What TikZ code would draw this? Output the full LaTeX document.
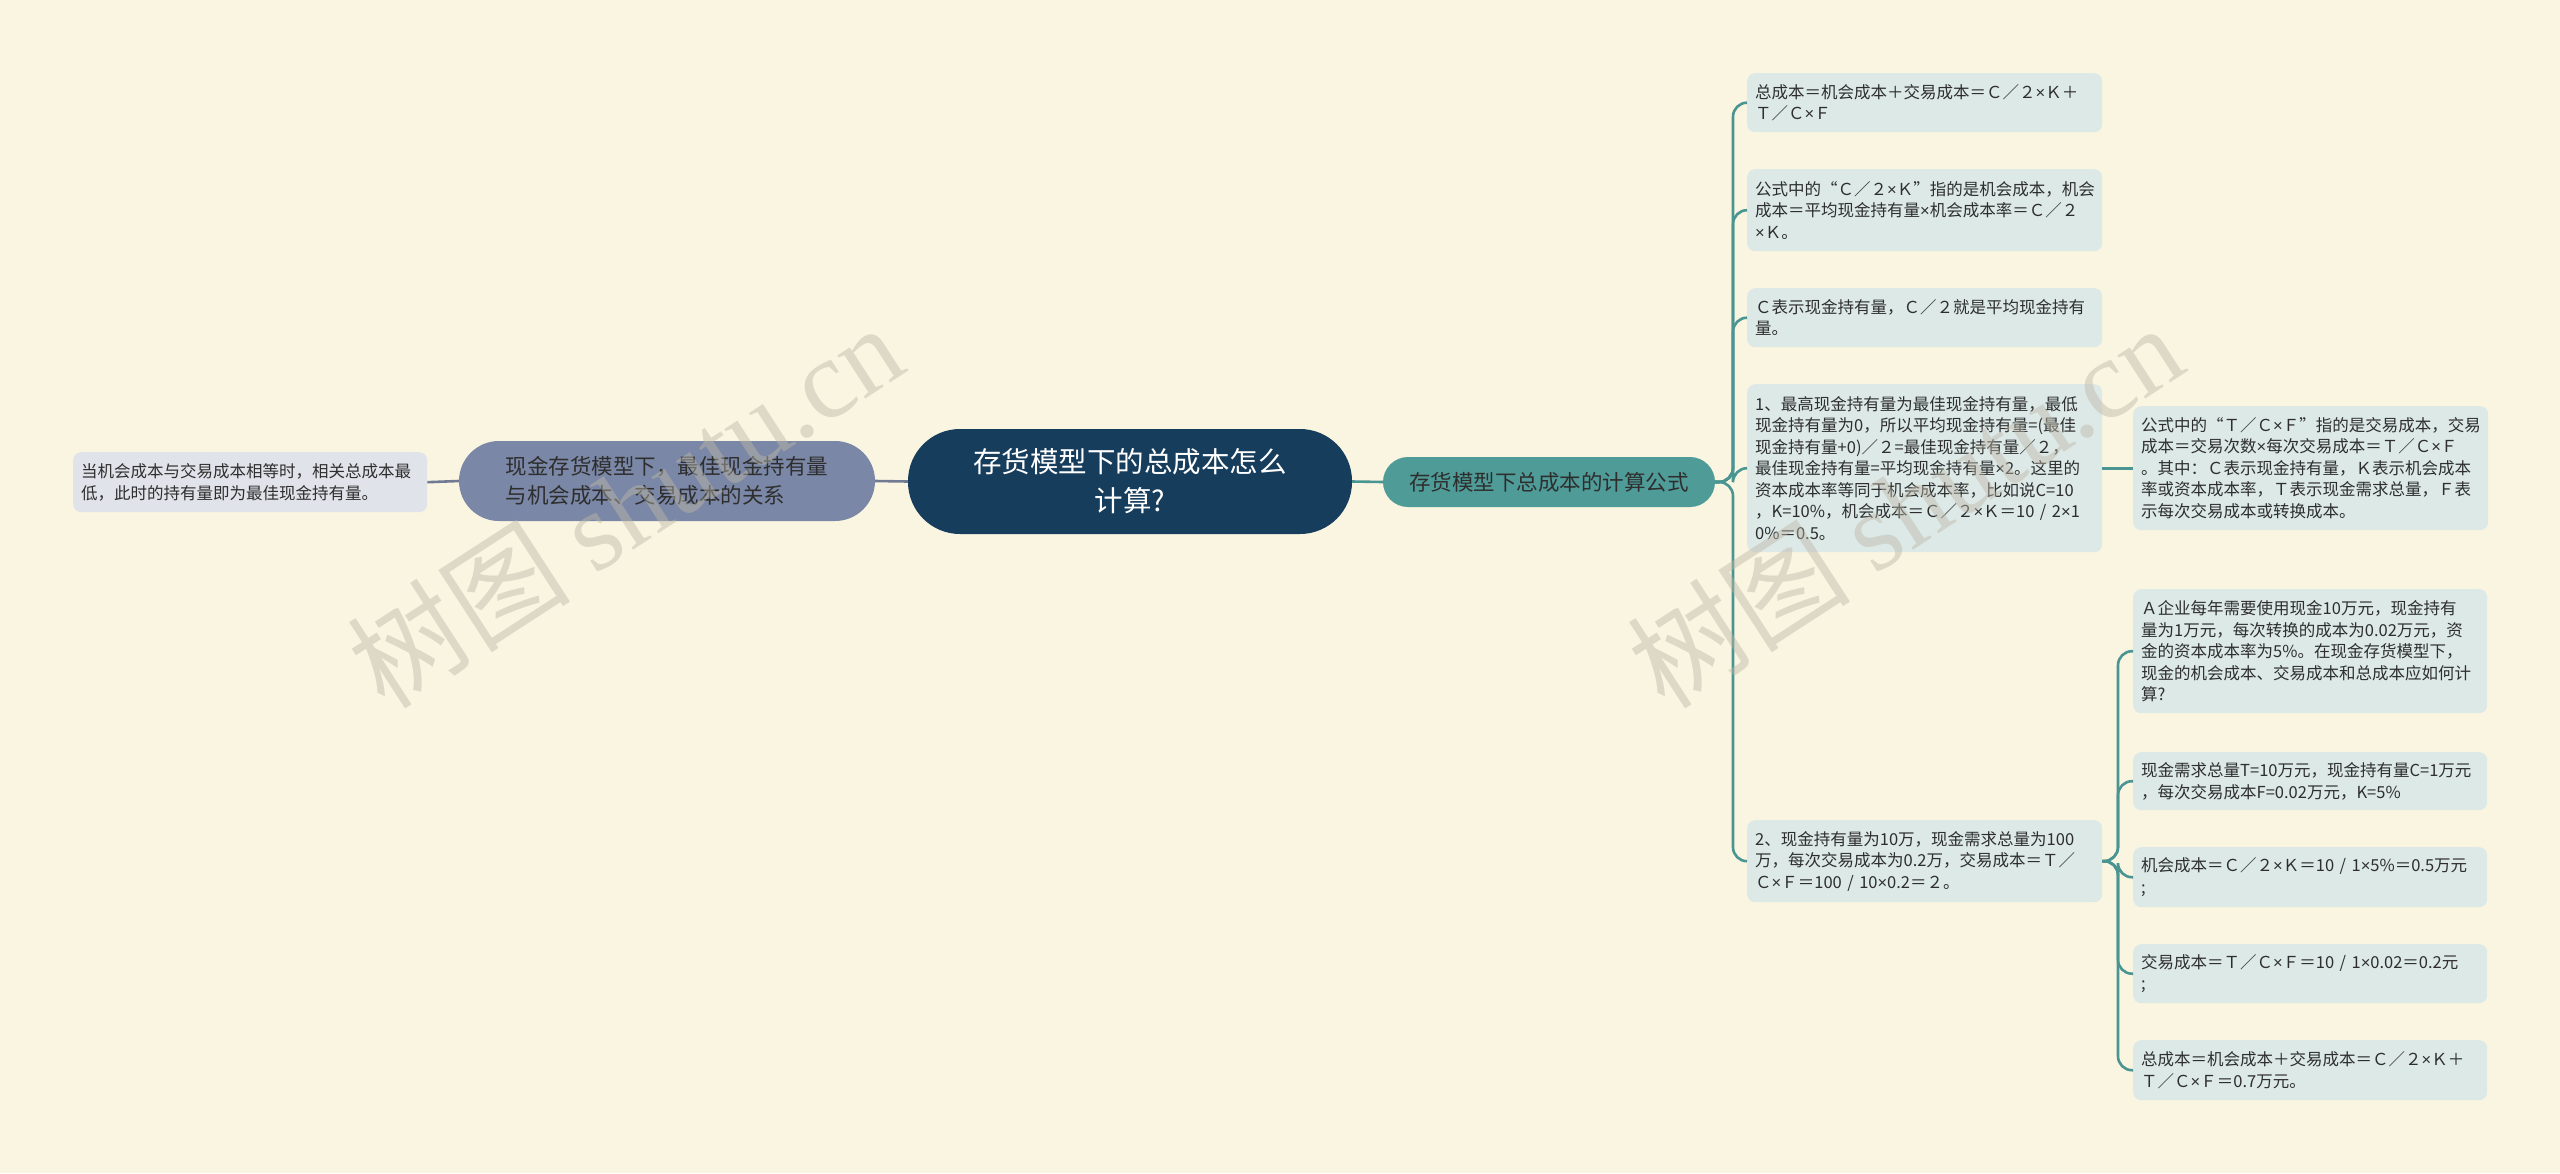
\documentclass[tikz,border=0pt]{standalone}
\usepackage{fontspec}
\setmainfont{Noto Sans CJK SC}
\newfontfamily\wmserif{Liberation Serif}
\newfontfamily\latf{Liberation Sans}
\newcommand\xx{{\latf ×}}
\definecolor{bgc}{HTML}{FAF5E1}
\definecolor{leaffill}{HTML}{DCE9E7}
\definecolor{leftleaffill}{HTML}{E1E3EA}
\definecolor{tealc}{HTML}{4F9B98}
\definecolor{tealline}{HTML}{4A9592}
\definecolor{slatec}{HTML}{7A87A6}
\definecolor{grayline}{HTML}{707A92}
\definecolor{navyc}{HTML}{173D5D}
\definecolor{txt}{HTML}{2E2E2E}
\definecolor{wmc}{HTML}{BDB8A8}
\tikzset{
  leafbox/.style={fill=leaffill, rounded corners=8pt, align=left, inner xsep=8pt, inner ysep=0pt,
    anchor=north west, text=txt, font=\fontsize{16.5pt}{21.5pt}\selectfont},
  tline/.style={draw=tealline, line width=2.6pt, rounded corners=14pt},
  gline/.style={draw=grayline, line width=2.6pt},
  wmark/.style={text=wmc, opacity=0.45, rotate=33, font=\fontsize{112pt}{112pt}\selectfont}
}
\begin{document}
\begin{tikzpicture}[x=1pt,y=-1pt]
\useasboundingbox (0,0) rectangle (2560,1173);
\fill[bgc] (0,0) rectangle (2560,1173);

% main nodes
\node[fill=navyc, text=white, rounded corners=52pt, minimum width=444pt, minimum height=105pt,
  align=center, font=\fontsize{28.5pt}{39pt}\selectfont] (C) at (1130,481.5) {存货模型下的总成本怎么\\计算?};
\node[fill=slatec, text=txt, rounded corners=40pt, minimum width=416pt, minimum height=80pt,
  align=left, font=\fontsize{21.5pt}{29.5pt}\selectfont] (Lm) at (667,481) {现金存货模型下，最佳现金持有量\\与机会成本、交易成本的关系};
\node[fill=leftleaffill, rounded corners=8pt, align=left, inner xsep=8pt, inner ysep=0pt,
  anchor=north west, text=txt, font=\fontsize{16.5pt}{21.5pt}\selectfont,
  text width=338pt, minimum height=60pt] (LL) at (73,452) {当机会成本与交易成本相等时，相关总成本最\\低，此时的持有量即为最佳现金持有量。};
\node[fill=tealc, text=txt, rounded corners=25pt, minimum width=332pt, minimum height=50pt,
  font=\fontsize{21.5pt}{26pt}\selectfont] (R) at (1549,482) {存货模型下总成本的计算公式};

% right leaves
\node[leafbox, text width=339pt, minimum height=59pt] (L1) at (1747,73)
  {总成本＝机会成本＋交易成本＝Ｃ／２\xx Ｋ＋\\Ｔ／Ｃ\xx Ｆ};
\node[leafbox, text width=339pt, minimum height=82pt] (L2) at (1747,169)
  {公式中的“Ｃ／２\xx Ｋ”指的是机会成本，机会\\成本＝平均现金持有量\xx 机会成本率＝Ｃ／２\\\xx Ｋ。};
\node[leafbox, text width=339pt, minimum height=59pt] (L3) at (1747,288)
  {Ｃ表示现金持有量，Ｃ／２就是平均现金持有\\量。};
\node[leafbox, text width=339pt, minimum height=168pt] (L4) at (1747,384)
  {1、最高现金持有量为最佳现金持有量，最低\\现金持有量为0，所以平均现金持有量=(最佳\\现金持有量+0)／２=最佳现金持有量／２，\\最佳现金持有量=平均现金持有量\xx 2。这里的\\资本成本率等同于机会成本率，比如说C=10\\，K=10\%，机会成本＝Ｃ／２\xx Ｋ＝10~/~2\xx 1\\0\%＝0.5。};
\node[leafbox, text width=339pt, minimum height=82pt] (L5) at (1747,820)
  {2、现金持有量为10万，现金需求总量为100\\万，每次交易成本为0.2万，交易成本＝Ｔ／\\Ｃ\xx Ｆ＝100~/~10\xx 0.2＝２。};

\node[leafbox, text width=339pt, minimum height=124pt] (L4c) at (2133,406)
  {公式中的“Ｔ／Ｃ\xx Ｆ”指的是交易成本，交易\\成本＝交易次数\xx 每次交易成本＝Ｔ／Ｃ\xx Ｆ\\。其中：Ｃ表示现金持有量，Ｋ表示机会成本\\率或资本成本率，Ｔ表示现金需求总量，Ｆ表\\示每次交易成本或转换成本。};

\node[leafbox, text width=338pt, minimum height=124pt] (C1) at (2133,589)
  {Ａ企业每年需要使用现金10万元，现金持有\\量为1万元，每次转换的成本为0.02万元，资\\金的资本成本率为5\%。在现金存货模型下，\\现金的机会成本、交易成本和总成本应如何计\\算?};
\node[leafbox, text width=338pt, minimum height=58pt] (C2) at (2133,752)
  {现金需求总量T=10万元，现金持有量C=1万元\\，每次交易成本F=0.02万元，K=5\%};
\node[leafbox, text width=338pt, minimum height=60pt] (C3) at (2133,847)
  {机会成本＝Ｃ／２\xx Ｋ＝10~/~1\xx 5\%＝0.5万元\\;};
\node[leafbox, text width=338pt, minimum height=59pt] (C4) at (2133,944)
  {交易成本＝Ｔ／Ｃ\xx Ｆ＝10~/~1\xx 0.02＝0.2元\\;};
\node[leafbox, text width=338pt, minimum height=60pt] (C5) at (2133,1040)
  {总成本＝机会成本＋交易成本＝Ｃ／２\xx Ｋ＋\\Ｔ／Ｃ\xx Ｆ＝0.7万元。};

% connectors
\draw[gline] (C.west) -- (Lm.east);
\draw[gline] (Lm.west) -- (LL.east);
\draw[tline] (C.east) -- (R.west);
\coordinate (t1) at (1733,482);
\foreach \n in {L1,L2,L3,L4,L5}{
  \draw[tline] (R.east) -- (t1) |- (\n.west);
}
\draw[tline] (L4.east) -- (L4c.west);
\coordinate (t2) at (2118,861);
\foreach \n in {C1,C2,C3,C4,C5}{
  \draw[tline] (L5.east) -- (t2) |- (\n.west);
}

% watermarks
\node[wmark] (W1) at (625,505) {树图 {\wmserif shutu.cn}};
\node[wmark] (W2) at (1905,505) {树图 {\wmserif shutu.cn}};
\end{tikzpicture}
\end{document}
